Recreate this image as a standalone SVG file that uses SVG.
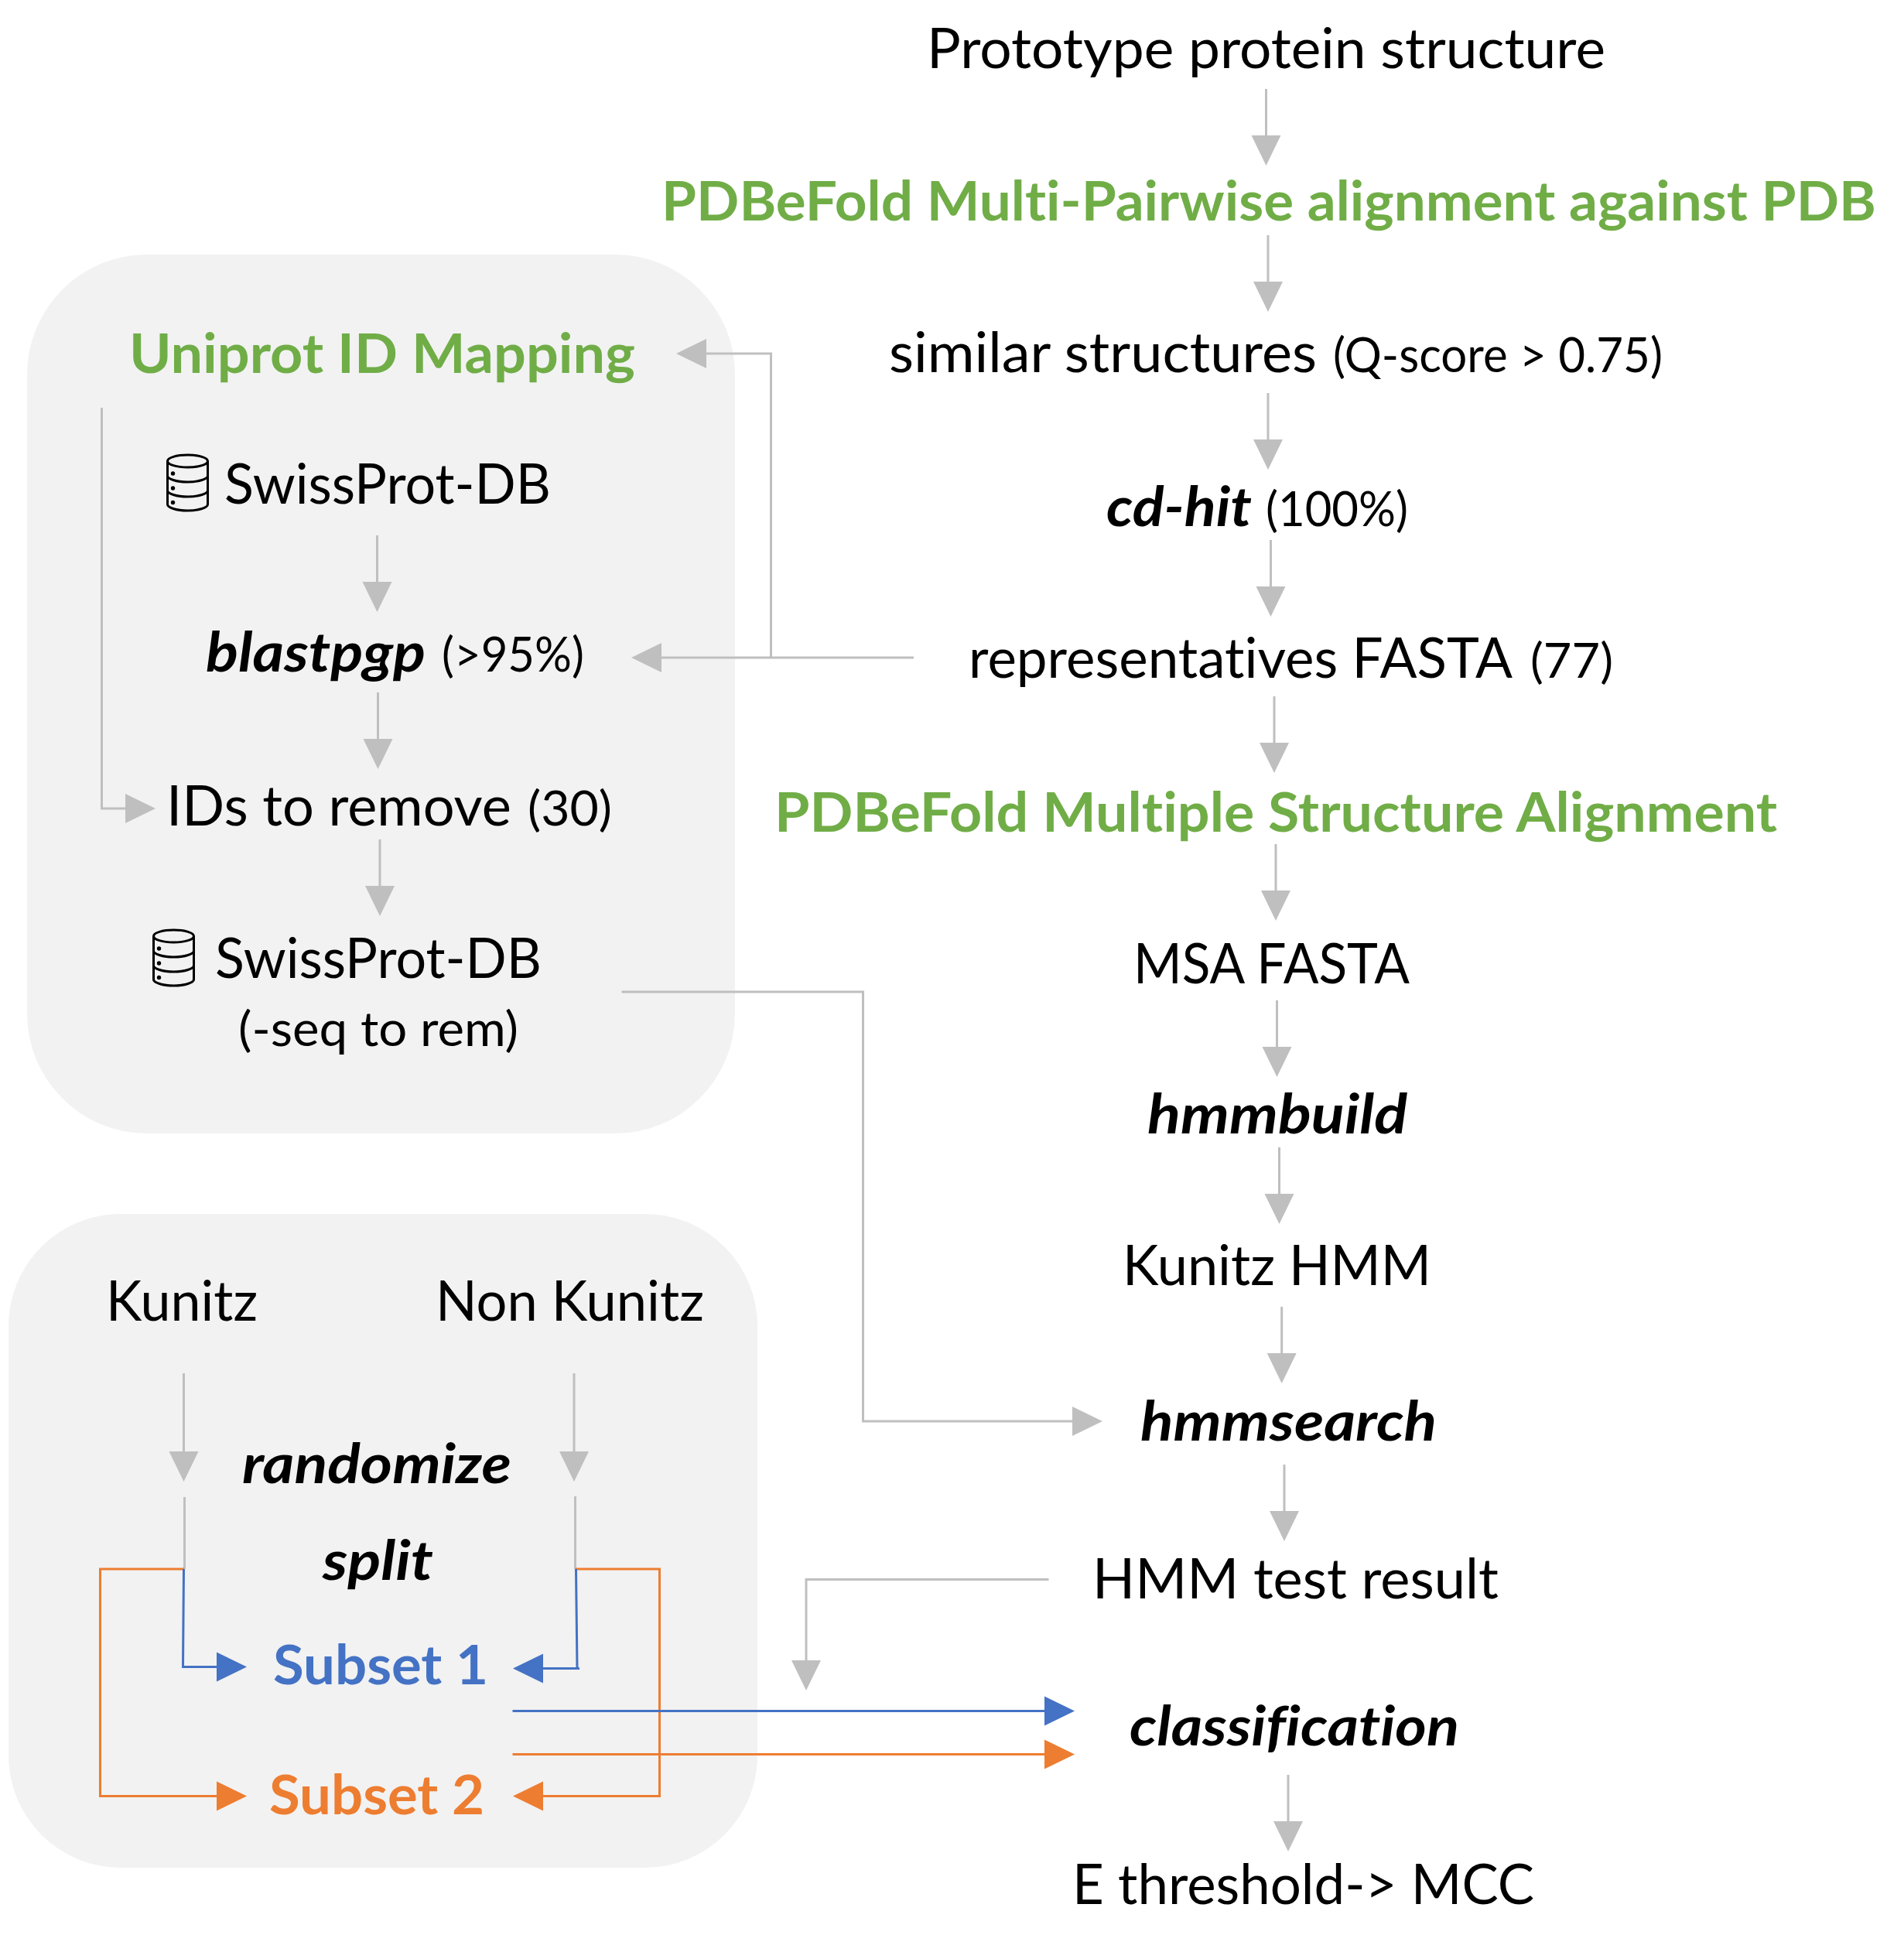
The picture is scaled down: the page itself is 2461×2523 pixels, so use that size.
<svg xmlns="http://www.w3.org/2000/svg" width="2461" height="2523" viewBox="0 0 2461 2523">
<style>
text{font-family:"Lato","Carlito","Liberation Sans",sans-serif;font-size:71px;fill:#000;font-variant-ligatures:none}
.s{font-size:61px}
.b{font-weight:700;font-style:italic}
.g{font-weight:700;fill:#70ad47}
.sb{font-weight:700;fill:#4472c4}
.so{font-weight:700;fill:#ed7d31}
.c{fill:none;stroke-width:3}
.gr{stroke:#bfbfbf}.bl{stroke:#4472c4}.or{stroke:#ed7d31}
</style>
<defs>
<marker id="ag" markerUnits="userSpaceOnUse" markerWidth="41" markerHeight="40" viewBox="0 0 41 40" refX="1" refY="20" orient="auto"><path d="M1 1L40 20L1 39Z" fill="#bfbfbf"/></marker>
<marker id="ab" markerUnits="userSpaceOnUse" markerWidth="41" markerHeight="40" viewBox="0 0 41 40" refX="1" refY="20" orient="auto"><path d="M1 1L40 20L1 39Z" fill="#4472c4"/></marker>
<marker id="ao" markerUnits="userSpaceOnUse" markerWidth="41" markerHeight="40" viewBox="0 0 41 40" refX="1" refY="20" orient="auto"><path d="M1 1L40 20L1 39Z" fill="#ed7d31"/></marker>
<symbol id="db" width="57" height="76" viewBox="-1 -1 57 76" overflow="visible">
<g fill="none" stroke="#000" stroke-width="3"><ellipse cx="27.5" cy="9" rx="26" ry="8"/><path d="M1.5 9V65C1.5 69 13 73 27.500 73S53.500 69 53.500 65V9M1.500 28C1.500 32 13 36 27.500 36S53.500 32 53.500 28M1.500 47C1.500 51 13 55 27.500 55S53.500 51 53.500 47"/></g>
<g fill="#000"><circle cx="8.500" cy="25" r="2.700"/><circle cx="8.500" cy="44" r="2.700"/><circle cx="8.500" cy="62.500" r="2.700"/></g>
</symbol>
</defs>
<rect width="2461" height="2523" fill="#fff"/>
<g id="panel-uniprot"><rect x="35" y="329" width="915" height="1136" rx="155" fill="#f2f2f2"/></g>
<g id="panel-subsets"><rect x="11" y="1569" width="968" height="845" rx="145" fill="#f2f2f2"/></g>
<g id="connectors">
<g class="c gr">
<path d="M1636.500 115V175" marker-end="url(#ag)"/>
<path d="M1639 304V364" marker-end="url(#ag)"/>
<path d="M1639 508V568" marker-end="url(#ag)"/>
<path d="M1642.500 698V758" marker-end="url(#ag)"/>
<path d="M1647 900V960" marker-end="url(#ag)"/>
<path d="M1649 1091V1151" marker-end="url(#ag)"/>
<path d="M1650.500 1293V1353" marker-end="url(#ag)"/>
<path d="M1653.500 1483V1543" marker-end="url(#ag)"/>
<path d="M1656.700 1689V1749" marker-end="url(#ag)"/>
<path d="M1660 1893V1953" marker-end="url(#ag)"/>
<path d="M1665 2294V2354" marker-end="url(#ag)"/>
<path d="M1181 850H855" marker-end="url(#ag)"/>
<path d="M996.500 850V457H913" marker-end="url(#ag)"/>
<path d="M131.500 527V1045H162" marker-end="url(#ag)"/>
<path d="M487.500 692V752" marker-end="url(#ag)"/>
<path d="M488.500 895V955" marker-end="url(#ag)"/>
<path d="M491 1085V1145" marker-end="url(#ag)"/>
<path d="M803.500 1282H1115.500V1837H1386" marker-end="url(#ag)"/>
<path d="M237.500 1775V1876" marker-end="url(#ag)"/>
<path d="M742 1775V1876" marker-end="url(#ag)"/>
<path d="M238.500 1935V2028"/>
<path d="M743.500 1934V2028"/>
<path d="M1355.500 2041.500H1042V2146" marker-end="url(#ag)"/>
</g>
<g class="c or">
<path d="M238 2028H129.500V2321.500H280" marker-end="url(#ao)"/>
<path d="M743.500 2028H852.500V2321.500H702" marker-end="url(#ao)"/>
<path d="M662.500 2267.500H1350" marker-end="url(#ao)"/>
</g>
<g class="c bl">
<path d="M237.500 2028L236.500 2154.500H280" marker-end="url(#ab)"/>
<path d="M744.500 2028L746 2156.500" fill="none"/>
<path d="M749 2156.500H702" marker-end="url(#ab)"/>
<path d="M662.500 2211.500H1350" marker-end="url(#ab)"/>
</g>
</g>
<g id="n-prototype"><text x="1198" y="88" textLength="877" lengthAdjust="spacingAndGlyphs">Prototype protein structure</text></g>
<g id="n-pdbefold-pairwise"><text class="g" x="855" y="285" textLength="1570" lengthAdjust="spacingAndGlyphs">PDBeFold Multi-Pairwise alignment against PDB</text></g>
<g id="n-similar"><text x="1149" y="481" textLength="553" lengthAdjust="spacingAndGlyphs">similar structures</text><text class="s" x="1723" y="481" textLength="426" lengthAdjust="spacingAndGlyphs">(Q-score &gt; 0.75)</text></g>
<g id="n-cdhit"><text class="b" x="1430" y="680" textLength="188" lengthAdjust="spacingAndGlyphs">cd-hit</text><text class="s" x="1636" y="680" textLength="184" lengthAdjust="spacingAndGlyphs">(100%)</text></g>
<g id="n-representatives"><text x="1252" y="876" textLength="703" lengthAdjust="spacingAndGlyphs">representatives FASTA</text><text class="s" x="1978" y="876" textLength="107" lengthAdjust="spacingAndGlyphs">(77)</text></g>
<g id="n-pdbefold-msa"><text class="g" x="1001" y="1075" textLength="1296" lengthAdjust="spacingAndGlyphs">PDBeFold Multiple Structure Alignment</text></g>
<g id="n-msa"><text x="1465" y="1271" textLength="357" lengthAdjust="spacingAndGlyphs">MSA FASTA</text></g>
<g id="n-hmmbuild"><text class="b" x="1483" y="1465" textLength="336" lengthAdjust="spacingAndGlyphs">hmmbuild</text></g>
<g id="n-kunitz-hmm"><text x="1451" y="1661" textLength="399" lengthAdjust="spacingAndGlyphs">Kunitz HMM</text></g>
<g id="n-hmmsearch"><text class="b" x="1474" y="1862" textLength="383" lengthAdjust="spacingAndGlyphs">hmmsearch</text></g>
<g id="n-hmm-test"><text x="1412" y="2066" textLength="525" lengthAdjust="spacingAndGlyphs">HMM test result</text></g>
<g id="n-classification"><text class="b" x="1460" y="2256" textLength="426" lengthAdjust="spacingAndGlyphs">classification</text></g>
<g id="n-threshold"><text x="1386" y="2461" textLength="597" lengthAdjust="spacingAndGlyphs">E threshold-&gt; MCC</text></g>
<g id="n-uniprot"><text class="g" x="167" y="482" textLength="654" lengthAdjust="spacingAndGlyphs">Uniprot ID Mapping</text></g>
<g id="n-swissprot1"><use href="#db" x="214" y="586"/><text x="290" y="651" textLength="422" lengthAdjust="spacingAndGlyphs">SwissProt-DB</text></g>
<g id="n-blastpgp"><text class="b" x="266" y="868" textLength="284" lengthAdjust="spacingAndGlyphs">blastpgp</text><text class="s" x="571" y="868" textLength="184" lengthAdjust="spacingAndGlyphs">(&gt;95%)</text></g>
<g id="n-ids"><text x="215" y="1067" textLength="446" lengthAdjust="spacingAndGlyphs">IDs to remove</text><text class="s" x="682" y="1067" textLength="109" lengthAdjust="spacingAndGlyphs">(30)</text></g>
<g id="n-swissprot2"><use href="#db" x="196" y="1200"/><text x="278" y="1264" textLength="422" lengthAdjust="spacingAndGlyphs">SwissProt-DB</text><text x="308" y="1352" style="font-size:62px" textLength="362" lengthAdjust="spacingAndGlyphs">(-seq to rem)</text></g>
<g id="n-kunitz"><text x="137" y="1707" textLength="196" lengthAdjust="spacingAndGlyphs">Kunitz</text></g>
<g id="n-non-kunitz"><text x="563" y="1707" textLength="347" lengthAdjust="spacingAndGlyphs">Non Kunitz</text></g>
<g id="n-randomize"><text class="b" x="313" y="1917" textLength="348" lengthAdjust="spacingAndGlyphs">randomize</text></g>
<g id="n-split"><text class="b" x="417" y="2042" textLength="143" lengthAdjust="spacingAndGlyphs">split</text></g>
<g id="n-subset1"><text class="sb" x="353" y="2177" textLength="278" lengthAdjust="spacingAndGlyphs">Subset 1</text></g>
<g id="n-subset2"><text class="so" x="348" y="2345" textLength="278" lengthAdjust="spacingAndGlyphs">Subset 2</text></g>
</svg>
